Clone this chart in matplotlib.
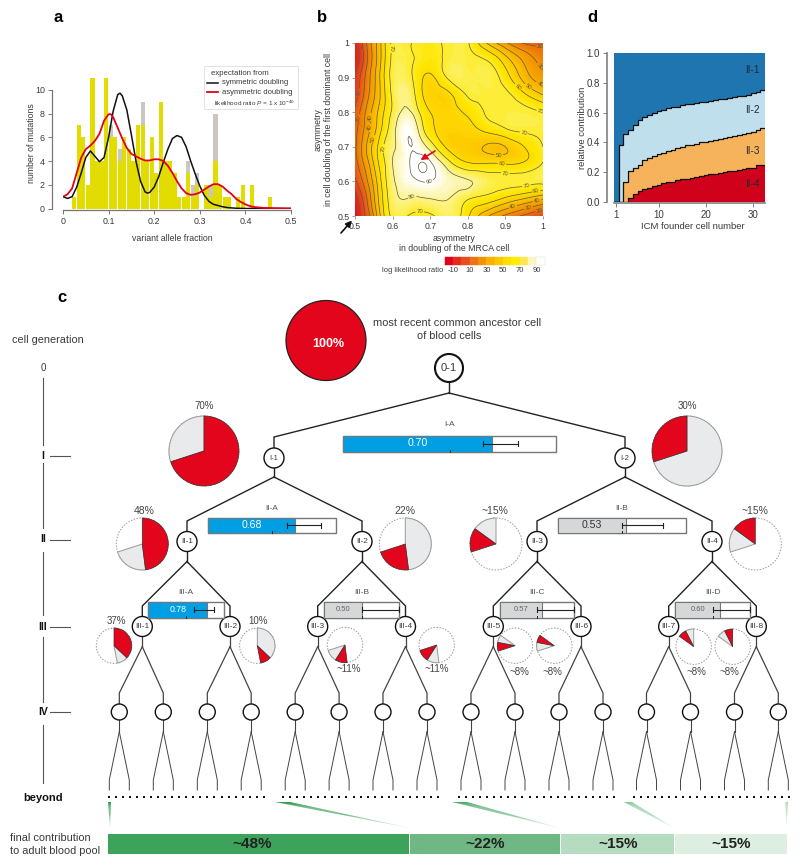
import numpy as np
import matplotlib
matplotlib.use('Agg')
import matplotlib.pyplot as plt
import matplotlib.tri as mtri
from matplotlib.colors import LinearSegmentedColormap
from matplotlib.patches import Circle, Wedge, Rectangle, Polygon

plt.rcParams['font.family'] = ['Liberation Sans', 'DejaVu Sans']
plt.rcParams['mathtext.fontset'] = 'custom'
plt.rcParams['mathtext.rm'] = 'Liberation Sans'
plt.rcParams['mathtext.it'] = 'Liberation Sans:italic'
plt.rcParams['mathtext.bf'] = 'Liberation Sans:bold'

W, H = 800, 867
TXT = '#3a3a3a'
RED = '#e2051b'
PALE = '#e9eaec'

# ---------- panel a data ----------
bin_left = [0.02,0.03,0.04,0.05,0.06,0.07,0.08,0.09,0.10,0.11,0.12,0.13,0.14,0.15,0.16,0.17,0.18,0.19,
            0.20,0.21,0.22,0.23,0.24,0.25,0.26,0.27,0.28,0.29,0.31,0.32,0.33,0.34,0.35,0.36,0.38,0.39,0.41,0.45]
yellow_counts = [1,7,6,2,11,4,4,11,6,6,4,6,5,4,7,7,4,6,3,9,4,4,3,1,1,3,1,2,2,1,4,2,1,1,1,2,2,1]
grey_counts   = [1,7,6,2,11,4,4,11,7,6,5,6,5,4,7,9,4,6,3,9,4,4,3,1,1,4,2,3,2,2,8,2,1,1,1,2,2,1]
sym_x = [0,.01,.02,.03,.04,.05,.06,.07,.08,.09,.10,.11,.12,.125,.13,.14,.15,.16,.17,.18,.185,.19,.20,.21,.22,.23,.24,.25,.26,.27,.28,.29,.30,.31,.32,.33,.34,.35,.36,.38,.40,.50]
sym_y = [1.0,.85,1.0,1.8,3.0,4.3,4.85,4.4,3.95,4.3,6.0,8.2,9.6,9.72,9.5,8.3,6.2,4.0,2.3,1.4,1.3,1.35,1.8,2.7,3.9,5.0,5.9,6.15,6.0,5.2,4.0,2.9,1.9,1.1,.6,.35,.25,.15,.08,.02,0,0]
asym_x = [0,.01,.02,.03,.04,.05,.06,.07,.08,.09,.10,.105,.11,.12,.13,.14,.15,.16,.17,.18,.19,.20,.21,.22,.23,.24,.25,.26,.27,.28,.29,.30,.31,.32,.33,.34,.35,.36,.37,.38,.39,.40,.41,.42,.44,.50]
asym_y = [1.0,1.2,1.7,3.0,4.3,5.0,5.3,5.7,6.3,7.4,7.95,7.95,7.7,6.8,5.9,5.1,4.6,4.4,4.2,4.05,4.05,4.15,4.15,4.0,3.6,3.0,2.3,1.7,1.3,1.15,1.2,1.35,1.6,1.85,2.05,2.05,1.85,1.5,1.2,.8,.55,.35,.2,.12,.05,0]

# ---------- panel b data ----------
llr_x = [.50,.52,.54,.56,.58,.60,.65,.675,.70,.75,.80,.85,.90,.95,1.0]
llr_y = [.50,.55,.60,.65,.70,.75,.80,.85,.90,.95,1.0]
llr_z = [
 [-12, 5,20,42,62,72,68,67,68,76,62,42,28,18,10],
 [ -5,10,28,48,65,76,79,79,80,80,71,66,58,50,42],
 [  8,20,35,52,68,78,88,90,90,84,81,75,73,73,73],
 [ 15,28,42,58,70,80,91,95.6,92,74,62,61,60,62,71],
 [ 18,32,47,60,72,78,90,85,76,57,53,49,50,60,70],
 [ 16,28,40,53,66,76,88,75,63,56,57,63,69,72,72],
 [ 12,25,38,50,62,72,80,68,60,57,62,71,73,73,70],
 [  5,18,32,45,60,72,75,62,56,58,71,73,72,62,50],
 [  0,15,30,45,62,73,71,62,58,72,74,74,65,46,34],
 [ -7, 8,26,42,60,72,71,68,66,73,73,70,55,38,26],
 [ -8,10,28,42,60,72,70,69,68,72,71,50,32,19,18],
]
llr_levels = [0,10,20,30,40,50,60,70,80,90,95]
llr_label_zoom = [(237,147),(147,140),(150,280),(148,355),(177,352),(187,385),(197,420),(215,445),(305,583),(360,552),
                  (330,620),(640,413),(567,475),(575,500),(585,527),(650,562),(680,580),(680,597),(608,618),(655,622),
                  (688,628),(688,352),(625,260),(657,258),(689,255),(683,205),(690,143)]
scale_colors = ['#e2001a','#e42a1e','#e84e1b','#ee7219','#f39200','#f9b200','#fdc800','#ffde00','#ffec00','#fbe84e','#fdf5c0','#ffffff']
scale_labels = ['-10','10','30','50','70','90']

# ---------- panel d data ----------
founders = list(range(1,33))
top_ii4 = [0,0,0,.025,.05,.075,.085,.09,.105,.115,.125,.13,.135,.145,.15,.155,.16,.165,.175,.18,.185,.19,.195,.20,.205,.21,.215,.22,.225,.225,.25,.25]
top_ii3 = [0,0,.135,.21,.23,.25,.28,.295,.31,.32,.33,.34,.35,.36,.37,.38,.385,.39,.40,.405,.41,.415,.42,.43,.435,.44,.45,.455,.46,.47,.48,.50]
top_ii2 = [0,.385,.455,.485,.52,.55,.57,.585,.60,.61,.62,.63,.635,.64,.65,.655,.66,.665,.67,.675,.68,.685,.69,.695,.70,.705,.71,.715,.72,.73,.74,.75]
d_names = ['II-1','II-2','II-3','II-4']

# ---------- panel c data ----------
gen_y = [368,458,541.5,626.5,712]
node_i = ['I-1','I-2']
node_ii = ['II-1','II-2','II-3','II-4']
node_iii = ['III-%d'%i for i in range(1,9)]
x_i = [274,625]
x_ii = [187,362,537,712]
x_iii = [142.3,230,317.7,405.5,493.3,581,668.7,756.3]
x_iv = [119.3,163.3,207.3,251.2,295.2,339.1,383,427,471,515,559,603,646.5,690.5,734.5,778.3]

bar_names = ['I-A','II-A','II-B','III-A','III-B','III-C','III-D']
bar_vals  = [0.70,0.68,0.53,0.78,0.50,0.57,0.60]
bar_err_lo = [0.656,0.62,0.50,0.60,0.50,0.50,0.50]
bar_err_hi = [0.82,0.88,0.82,0.87,1.0,1.0,1.0]
bar_left  = [343,208,558,148.3,324.3,499.7,675.3]
bar_right = [556,336,685.7,223.7,399,574.3,750]
bar_top   = [435.5,517.7,517.7,602,602,602,602]
bar_h     = [16,15,15,15.5,15.5,15.5,15.5]
bar_font  = [7.6,7.6,7.6,6.3,5.5,5.5,5.5]

# (percent start, percent end) clockwise from 12 o'clock
pie_labels = ['70%','30%','48%','22%','~15%','~15%','37%','10%','~11%','~11%','~8%','~8%','~8%','~8%']
pie_cx = [204,687,142.3,405.3,496,755.3,114,257.3,345,436.7,515,554.3,693.7,732.7]
pie_cy = [451,451,544,544,544,544,645.7,645.7,645,645,645.7,645.7,646.7,646.7]
pie_r  = [35,35,26,26,26,26,17.7,17.7,17.7,17.7,17.7,17.7,17.7,17.7]
pie_lx = [204,687,143.7,405,494.7,754.7,116.3,258.3,348.7,436.7,519.7,552.7,696,729.3]
pie_ly = [406,406,511,511,511,511,620.7,620.7,669,669,672,672,672,672]
pie_red  = [(0,70),(70,100),(0,48),(48,70),(70,85),(85,100),(0,37),(37,47),(48,59),(59,70),(70,78),(78,85),(85,92.5),(92.5,100)]
pie_pale = [(70,100),(0,70),(48,70),(0,48),(85,100),(70,85),(37,47),(0,37),(59,70),(48,59),(78,85),(70,78),(92.5,100),(85,92.5)]

final_names = ['~48%','~22%','~15%','~15%']
final_share = [48,22,15,15]
final_colors = ['#3da35a','#6fb883','#b6dcc0','#dcefe1']

def box(l, t, r, b):
    return [l/W, 1-b/H, (r-l)/W, (b-t)/H]

fig = plt.figure(figsize=(8,8.67), dpi=100, facecolor='white')

# ---------- a ----------
axa = fig.add_axes(box(63,78,291,208.5))
axa.bar(bin_left, grey_counts, width=.0092, align='edge', color='#c9c7c0', lw=0)
axa.bar(bin_left, yellow_counts, width=.0092, align='edge', color='#e3dc00', lw=0)
axa.plot(sym_x, sym_y, color='#111111', lw=1.1)
axa.plot(asym_x, asym_y, color='#e2001a', lw=1.3)
axa.set_xlim(0,.5); axa.set_ylim(0,11)
axa.set_xticks([0,.1,.2,.3,.4,.5]); axa.set_xticklabels(['0','0.1','0.2','0.3','0.4','0.5'])
axa.set_yticks([0,2,4,6,8,10])
for s in ['top','right']: axa.spines[s].set_visible(False)
axa.spines['left'].set_position(('outward',8)); axa.spines['left'].set_bounds(0,10)
axa.spines['bottom'].set_position(('outward',1)); axa.spines['bottom'].set_bounds(0,.5)
for s in ['left','bottom']:
    axa.spines[s].set_color('#777777'); axa.spines[s].set_linewidth(.9)
axa.tick_params(labelsize=6.4, colors=TXT, length=3, width=.7, pad=2, color='#777777')
axa.set_xlabel('variant allele fraction', fontsize=6.3, color=TXT, x=.478, labelpad=6)
axa.set_ylabel('number of mutations', fontsize=6.3, color=TXT, labelpad=-1)

# ---------- b ----------
axb = fig.add_axes(box(355,43,543,216))
gx, gy = np.meshgrid(llr_x, llr_y)
tri = mtri.Triangulation(gx.ravel(), gy.ravel())
zflat = np.array(llr_z, float).ravel()
rtri, rz = mtri.UniformTriRefiner(tri).refine_field(zflat, subdiv=3)
cmap = LinearSegmentedColormap.from_list('llr', [(0,'#e2001a'),(.23,'#e84e1b'),(.4,'#f39200'),(.58,'#fdc800'),(.7,'#ffe600'),(.77,'#fdee40'),(.85,'#fdf6b0'),(.91,'#ffffff'),(1,'#ffffff')])
axb.tricontourf(rtri, rz, levels=np.linspace(-15,100,70), cmap=cmap, extend='both')
cs = axb.tricontour(rtri, rz, levels=llr_levels, colors='#5a5a38', linewidths=.5)
manual = [(.5+(z-136)/1126, .5+(648-y)/1036) for z,y in llr_label_zoom]
axb.clabel(cs, fontsize=4.3, fmt='%d', manual=manual, inline=True, inline_spacing=1)
axb.set_xlim(.5,1); axb.set_ylim(.5,1)
axb.set_xticks([.5,.6,.7,.8,.9,1]); axb.set_xticklabels(['0.5','0.6','0.7','0.8','0.9','1'])
axb.set_yticks([.5,.6,.7,.8,.9,1]); axb.set_yticklabels(['0.5','0.6','0.7','0.8','0.9','1'])
for s in axb.spines.values(): s.set_visible(False)
axb.tick_params(labelsize=6.3, colors=TXT, length=2, width=.5, pad=2, color='#777777')
axb.set_xlabel('asymmetry\nin doubling of the MRCA cell', fontsize=6.3, color=TXT, x=.528, labelpad=2.5, linespacing=1.2)
axb.set_ylabel('asymmetry\nin cell doubling of the first dominant cell', fontsize=6.3, color=TXT, labelpad=3, linespacing=1.2)

# ---------- d ----------
axd = fig.add_axes(box(614,53.3,764.7,201.7))
xd = np.array(founders)
xs = np.r_[xd-.5, xd[-1]+.5]
t4 = np.r_[top_ii4, top_ii4[-1]]; t3 = np.r_[top_ii3, top_ii3[-1]]; t2 = np.r_[top_ii2, top_ii2[-1]]
axd.fill_between(xs, t2, 1, step='post', color='#1f75b0', lw=0)
axd.fill_between(xs, t3, t2, step='post', color='#c0dfec', lw=0)
axd.fill_between(xs, t4, t3, step='post', color='#f7b35c', lw=0)
axd.fill_between(xs, 0, t4, step='post', color='#d0021b', lw=0)
for t in (t2,t3,t4):
    axd.step(xs, t, where='post', color='#111111', lw=.9)
axd.set_xlim(.5,32.4); axd.set_ylim(0,1)
axd.set_xticks([1,10,20,30]); axd.set_yticks([0,.2,.4,.6,.8,1]); axd.set_yticklabels(['0.0','0.2','0.4','0.6','0.8','1.0'])
for s in ['top','right']: axd.spines[s].set_visible(False)
axd.spines['left'].set_position(('outward',5)); axd.spines['bottom'].set_position(('outward',1))
for s in ['left','bottom']:
    axd.spines[s].set_color('#808080'); axd.spines[s].set_linewidth(1.2)
axd.tick_params(labelsize=7, colors=TXT, length=3, width=.7, pad=2, color='#808080')
axd.set_xlabel('ICM founder cell number', fontsize=6.8, color=TXT, x=.52, labelpad=1.5)
axd.set_ylabel('relative contribution', fontsize=6.8, color=TXT, labelpad=0)
for n,yv in zip(d_names,[.885,.62,.345,.12]):
    axd.text(29.8,yv,n,ha='center',va='center',fontsize=7.2,color='#1c2a33')

# ---------- overlay / c ----------
ax = fig.add_axes([0,0,1,1], zorder=10)
ax.set_xlim(0,W); ax.set_ylim(H,0); ax.axis('off'); ax.patch.set_alpha(0)

def T(x,y,s,fs=6.5,ha='center',va='center',c=TXT,**k):
    ax.text(x,y,s,fontsize=fs,ha=ha,va=va,color=c,**k)

for x,y,s in [(58,17,'a'),(322,17,'b'),(62,297,'c'),(592,17,'d')]:
    T(x,y,s,fs=12,c='black',fontweight='bold')

# a legend
ax.add_patch(Rectangle((204,66),94,43,fc='white',ec='#dddddd',lw=.6))
T(211,73.5,'expectation from',fs=5.6,ha='left')
T(221.5,83,'symmetric doubling',fs=5.5,ha='left')
T(221.5,92.5,'asymmetric doubling',fs=5.5,ha='left')
T(214,103,r'likelihood ratio $\mathit{P}$ = 1 x 10$^{-40}$',fs=4.6,ha='left')
ax.plot([207,218],[83,83],color='#111111',lw=1.1)
ax.plot([207,218],[92,92],color='#e2001a',lw=1.3)

# b scale
sx0, sx1 = 444.7, 544.7
sw = (sx1-sx0)/len(scale_colors)
for i,c in enumerate(scale_colors):
    ax.add_patch(Rectangle((sx0+i*sw,256.7),sw,8.3,fc=c,ec='#dddddd' if i==len(scale_colors)-1 else c,lw=.3))
for i,l in enumerate(scale_labels):
    T(453+i*16.8,270.5,l,fs=5.5)
T(443,270.5,'log likelihood ratio',fs=5.4,ha='right')
ax.annotate('',xy=(420.5,160),xytext=(435,151),arrowprops=dict(arrowstyle='-|>',color=RED,lw=1.2,mutation_scale=9,linestyle=(0,(2,.6)),shrinkA=0,shrinkB=0))
ax.annotate('',xy=(352,220.5),xytext=(341,233),arrowprops=dict(arrowstyle='-|>',color='#111111',lw=1.2,mutation_scale=9,shrinkA=0,shrinkB=0))

# generation scale
gen_labels = ['0','I','II','III','IV']
for lab,y in zip(gen_labels,gen_y):
    if lab=='0':
        T(43,y,lab,fs=7)
    else:
        T(42.7,y-2 if lab in('I','II') else y,lab,fs=7.5,c='#111111',fontweight='bold')
        ax.plot([50,69.5],[y-2 if lab in('I','II') else y]*2,color='#555555',lw=.8)
for y0,y1 in [(378,445),(463,528),(551.5,615),(637,702),(725,782.5)]:
    ax.plot([42.7,42.7],[y0,y1],color='#555555',lw=.8)
T(12,340,'cell generation',fs=7.8,ha='left')
T(23,798,'beyond',fs=8,ha='left',c='#111111',fontweight='bold')
T(10,838,'final contribution',fs=7.9,ha='left')
T(10,851,'to adult blood pool',fs=7.9,ha='left')

# tree
def fork(px, split, kink, cx, ctop, lc='#222222', lw=1.0):
    ax.plot([px,cx,cx],[split,kink,ctop],color=lc,lw=lw,solid_joinstyle='miter',zorder=2)
def node(x,y,r,s=None,fs=6,lw=1.0):
    ax.add_patch(Circle((x,y),r,fc='white',ec='#111111',lw=lw,zorder=3))
    if s: T(x,y,s,fs=fs,zorder=4)

ax.plot([449,449],[382,393],color='#222222',lw=1,zorder=2)
for cx in x_i: fork(449,393,437,cx,448)
for i,px in enumerate(x_i):
    ax.plot([px,px],[467,477],color='#222222',lw=1,zorder=2)
    for cx in x_ii[2*i:2*i+2]: fork(px,477,521,cx,531)
for i,px in enumerate(x_ii):
    ax.plot([px,px],[551.5,561.5],color='#222222',lw=1,zorder=2)
    for cx in x_iii[2*i:2*i+2]: fork(px,561.5,606,cx,616)
for i,px in enumerate(x_iii):
    ax.plot([px,px],[637,646.7],color='#444444',lw=.9,zorder=2)
    for cx in x_iv[2*i:2*i+2]: fork(px,646.7,693,cx,704,lc='#444444',lw=.9)
for px in x_iv:
    ax.plot([px,px],[720,731.7],color='#444444',lw=.8,zorder=2)
    for d in (-10,10):
        fork(px,731.7,780,px+d,790,lc='#444444',lw=.7)

node(449,368,14,'0-1',fs=8,lw=1.5)
for x,s in zip(x_i,node_i): node(x,458,10,s,fs=5.5)
for x,s in zip(x_ii,node_ii): node(x,541.5,10,s,fs=6)
for x,s in zip(x_iii,node_iii): node(x,626.5,10,s,fs=6)
for x in x_iv: node(x,712,8)

# bars
for name,val,lo,hi,l,r,t,h,fs in zip(bar_names,bar_vals,bar_err_lo,bar_err_hi,bar_left,bar_right,bar_top,bar_h,bar_font):
    w = r-l
    mid = l+w/2
    blue = val>=.65
    ax.add_patch(Rectangle((l,t),w,h,fc='white',ec='#777777',lw=1,zorder=5))
    ax.add_patch(Rectangle((l,t),w*val,h,fc='#009fe3' if blue else '#d6d7d9',ec='#777777',lw=.8,zorder=5))
    y = t+h/2
    ax.plot([l+w*lo,l+w*hi],[y,y],color='#222222',lw=.8,zorder=6)
    for xe in (l+w*lo,l+w*hi):
        ax.plot([xe,xe],[y-2.5,y+2.5],color='#222222',lw=.8,zorder=6)
    ax.plot([mid,mid],[t+h-1.5,t+h],color='#222222',lw=.7,zorder=6)
    T(l+w*val*.5,y,'%.2f'%val,fs=fs,c='white' if blue else '#666666' if fs<7 else '#333333',zorder=7)
    T(mid,t-9 if name!='I-A' else t-11.5,name,fs=6,c='#555555')

# pies
def slice_patch(cx,cy,r,span,fc,ec,lw):
    a,b = span
    ax.add_patch(Wedge((cx,cy),r,a*3.6-90,b*3.6-90,fc=fc,ec=ec,lw=lw,zorder=4))

for lab,cx,cy,r,lx,ly,rd,pl in zip(pie_labels,pie_cx,pie_cy,pie_r,pie_lx,pie_ly,pie_red,pie_pale):
    ax.add_patch(Circle((cx,cy),r,fc='white',ec='#999999',lw=.7,ls=(0,(1.5,1.5)),zorder=3))
    slice_patch(cx,cy,r,pl,PALE,'#9a9a9a',.7)
    slice_patch(cx,cy,r,rd,RED,'#333333',.5)
    T(lx,ly,lab,fs=7 if r>30 else 7.5 if r>20 else 7,c='#444444',zorder=5)

ax.add_patch(Circle((326,340.5),40,fc=RED,ec='#222222',lw=.9,zorder=3))
T(328,344,'100%',fs=9,c='white',fontweight='bold',zorder=5)
T(457.5,322.5,'most recent common ancestor cell',fs=7.9)
T(449,336,'of blood cells',fs=7.9)

# dots
dot_groups = [108.7,283,459,634]
for g in dot_groups:
    ax.scatter(g+np.arange(23)*7.05,[797]*23,s=4.2,c='#111111',marker='s',lw=0,zorder=3)

# final bar
edges = [108,410,561,674.5,788]
for n,sh,c,a,b in zip(final_names,final_share,final_colors,edges[:-1],edges[1:]):
    ax.add_patch(Rectangle((a,834),b-a-.8,20,fc=c,ec='none'))
    T((a+b)/2+(-7 if n=='~48%' else 0),844,n,fs=11,c='#222222',fontweight='bold')

# wedges running down to the pool bar
wedge_top = [(108,111),(275,290),(452,467),(623.5,632),(785.5,788)]
wedge_tip = [110,410,560,674.5,786.5]
wedge_col = ['#2f9a4e','#2f9a4e','#4dab6b','#8ccb9f','#a5d6b3']
for (a,b),tip,c in zip(wedge_top,wedge_tip,wedge_col):
    steps = 24
    for k in range(steps):
        f0,f1 = k/steps,(k+1)/steps
        pa0,pb0 = a+(tip-a)*f0, b+(tip-b)*f0
        pa1,pb1 = a+(tip-a)*f1, b+(tip-b)*f1
        y0,y1 = 802+26*f0, 802+26*f1
        ax.add_patch(Polygon([(pa0,y0),(pb0,y0),(pb1,y1),(pa1,y1)],fc=c,ec='none',alpha=1-.8*f0))

fig.savefig('out.png', dpi=100)
